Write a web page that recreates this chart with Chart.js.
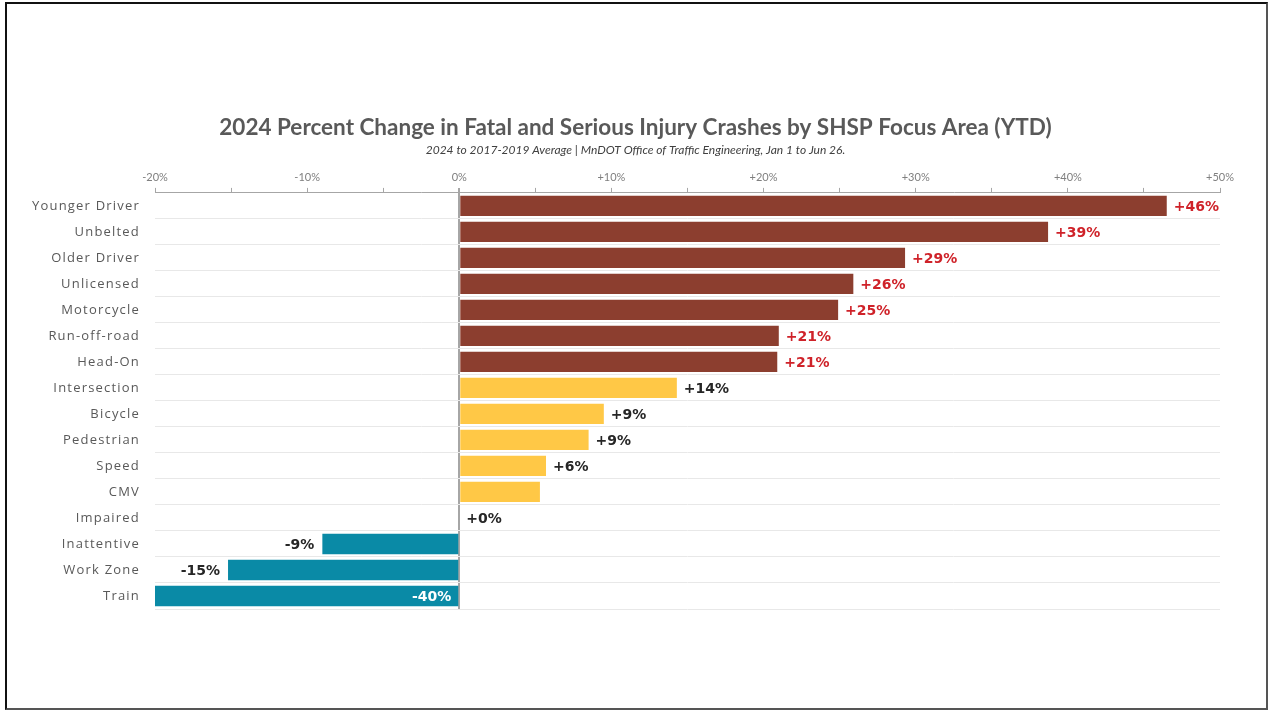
<!DOCTYPE html>
<html>
<head>
<meta charset="utf-8">
<script src="https://cdn.jsdelivr.net/npm/chart.js@4.4.1/dist/chart.umd.min.js"></script>
<style>
  html, body { margin: 0; padding: 0; background: #fff; }
  #wrap { position: relative; width: 1271px; height: 711px; }
  #frame { position: absolute; left: 5px; top: 2px; width: 1259px; height: 704px; border: 2px solid #111; border-right-color: #555; border-bottom-color: #555; pointer-events: none; }
  canvas { position: absolute; left: 0; top: 0; }
</style>
</head>
<body>
<div id="wrap">
  <canvas id="c" width="1271" height="711"></canvas>
  <div id="frame"></div>
</div>
<script>
const categories = ['Younger Driver','Unbelted','Older Driver','Unlicensed','Motorcycle','Run-off-road','Head-On','Intersection','Bicycle','Pedestrian','Speed','CMV','Impaired','Inattentive','Work Zone','Train'];
const percentChange = [46.5, 38.7, 29.3, 25.9, 24.9, 21.0, 20.9, 14.3, 9.5, 8.5, 5.7, 5.3, 0, -9.0, -15.2, -40];
const valueLabels = ['+46%','+39%','+29%','+26%','+25%','+21%','+21%','+14%','+9%','+9%','+6%','','+0%','-9%','-15%','-40%'];
const axisMin = -20, axisMax = 50, axisStep = 5;

const RED = '#8c3e2f', YELLOW = '#ffc846', TEAL = '#0a8aa6';
function barColor(v) { return v >= 20 ? RED : (v >= 0 ? YELLOW : TEAL); }

const labelPlugin = {
  id: 'valueLabels',
  afterLayout(chart) {
    // center title / subtitle over the whole canvas
    chart.boxes.forEach(b => {
      if (!b.axis && b.position === 'top') {
        b.left = 0; b.right = chart.width; b.width = chart.width;
      }
    });
    const ys = chart.scales.y;
    if (ys && !ys._spaced) {
      const orig = ys.drawLabels.bind(ys);
      ys.drawLabels = function (area) {
        const ctx = this.ctx;
        const prev = ctx.letterSpacing;
        ctx.letterSpacing = '1.2px';
        orig(area);
        ctx.letterSpacing = prev || '0px';
      };
      ys._spaced = true;
    }
  },
  afterDatasetsDraw(chart) {
    const ctx = chart.ctx;
    const xs = chart.scales.x;
    const meta = chart.getDatasetMeta(0);
    ctx.save();
    ctx.font = 'bold 14px "DejaVu Sans"';
    ctx.textBaseline = 'middle';
    meta.data.forEach((bar, i) => {
      const txt = valueLabels[i];
      if (!txt) return;
      const v = percentChange[i];
      const y = bar.y + 1;
      if (v < xs.min) {
        ctx.fillStyle = '#ffffff';
        ctx.textAlign = 'right';
        ctx.fillText(txt, xs.getPixelForValue(0) - 8, y);
      } else if (v < 0) {
        ctx.fillStyle = '#262626';
        ctx.textAlign = 'right';
        ctx.fillText(txt, xs.getPixelForValue(v) - 8, y);
      } else {
        ctx.fillStyle = v >= 20 ? '#cf2229' : '#262626';
        ctx.textAlign = 'left';
        ctx.fillText(txt, xs.getPixelForValue(v) + 7, y);
      }
    });
    ctx.restore();
  }
};

new Chart(document.getElementById('c'), {
  type: 'bar',
  data: {
    labels: categories,
    datasets: [{
      data: percentChange,
      backgroundColor: percentChange.map(barColor),
      borderColor: percentChange.map(barColor),
      borderWidth: 0,
      barPercentage: 0.78,
      categoryPercentage: 1.0
    }]
  },
  options: {
    indexAxis: 'y',
    responsive: false,
    animation: false,
    devicePixelRatio: 1,
    layout: { padding: { top: 114, right: 51, left: 0, bottom: 102 } },
    plugins: {
      legend: { display: false },
      tooltip: { enabled: false },
      title: {
        display: true,
        text: '2024 Percent Change in Fatal and Serious Injury Crashes by SHSP Focus Area (YTD)',
        color: '#595959',
        font: { family: 'Lato', size: 22.5, weight: 'bold' },
        padding: { top: 0, bottom: 2 }
      },
      subtitle: {
        display: true,
        text: '2024 to 2017-2019 Average | MnDOT Office of Traffic Engineering, Jan 1 to Jun 26.',
        color: '#404040',
        font: { family: 'Lato', size: 12, style: 'italic' },
        padding: { top: 0, bottom: 0 }
      }
    },
    scales: {
      x: {
        position: 'top',
        min: axisMin,
        max: axisMax,
        afterFit(scale) { scale.height = 35.5; },
        ticks: {
          stepSize: axisStep,
          autoSkip: false,
          maxRotation: 0,
          color: '#7f7f7f',
          font: { family: 'Lato', size: 11 },
          padding: 4,
          callback(v) { return v % 10 === 0 ? (v > 0 ? '+' + v + '%' : v + '%') : ''; }
        },
        grid: {
          drawOnChartArea: true,
          drawTicks: true,
          tickLength: 5,
          tickColor: '#a6a6a6',
          color: (c) => (c.tick && c.tick.value === 0) ? '#a6a6a6' : 'rgba(0,0,0,0)',
          lineWidth: (c) => (c.tick && c.tick.value === 0) ? 2 : 1
        },
        border: { display: true, color: '#a6a6a6', width: 1 }
      },
      y: {
        afterFit(scale) { scale.width = 155; },
        ticks: {
          color: '#595959',
          font: { family: 'Open Sans', size: 13 },
          padding: 15
        },
        grid: {
          offset: true,
          drawTicks: false,
          color: '#e8e8e8',
          lineWidth: 1
        },
        border: { display: false }
      }
    }
  },
  plugins: [labelPlugin]
});
</script>
</body>
</html>
